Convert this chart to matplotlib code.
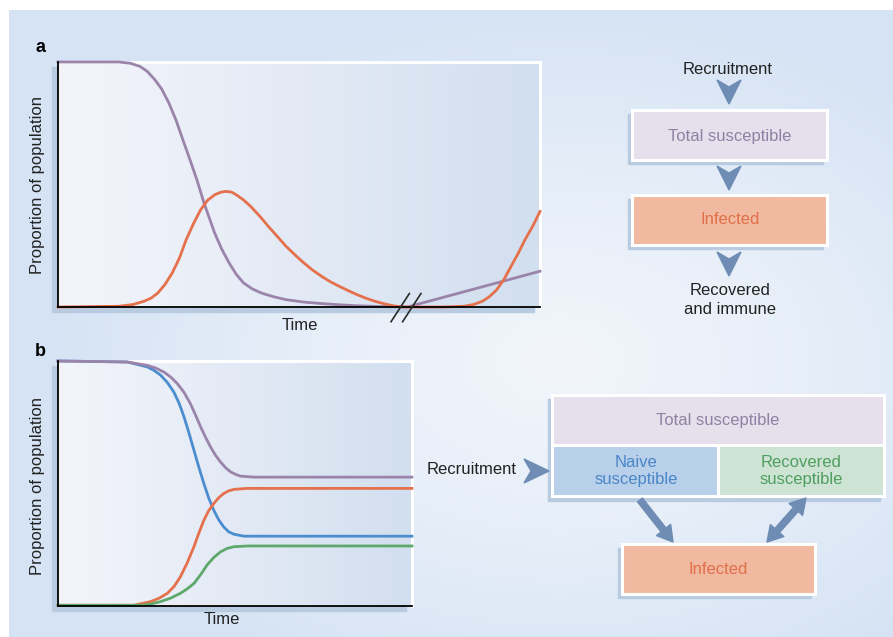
import numpy as np
import matplotlib
matplotlib.use("Agg")
import matplotlib.pyplot as plt
from matplotlib.patches import Rectangle, Polygon, FancyArrowPatch
from matplotlib.colors import to_rgb

plt.rcParams['font.family'] = ['Liberation Sans', 'DejaVu Sans']

# ---------------- data ----------------
# Panel a: time in % of axis, proportion of population (0..1)
a_time_s = [0, 12.6, 15, 17, 18.5, 20, 21.5, 23, 24.5, 25.9, 27.4, 28.8, 30.3, 32.5, 34, 35.5,
            37, 38.5, 40.3, 42.2, 44.7, 47.3, 51, 54.7, 58.4, 62, 67, 72.5, 100]
a_susceptible = [1.0, 1.0, 0.995, 0.982, 0.962, 0.93, 0.89, 0.833, 0.762, 0.683, 0.6, 0.52, 0.424,
                 0.302, 0.235, 0.18, 0.133, 0.098, 0.074, 0.057, 0.042, 0.03, 0.02, 0.014, 0.009,
                 0.005, 0.002, 0.0, 0.146]
a_time_i = [0, 12.6, 15.5, 17.8, 19.3, 20.7, 22.2, 23.7, 25.2, 26.6, 28.1, 29.6, 31, 32.5, 33.7,
            34.8, 36, 37, 38.5, 40, 41.8, 43.6, 45.5, 47.3, 49.2, 51, 52.8, 54.7, 56.5, 58.4, 60.3,
            62.1, 64, 65.8, 67.7, 69.5, 71.7, 80, 84.3, 86.2, 88, 89.5, 91, 92.5, 94, 95.5, 96.9,
            98.5, 100]
a_infected = [0.0, 0.003, 0.01, 0.023, 0.036, 0.057, 0.092, 0.139, 0.2, 0.275, 0.34, 0.397, 0.435,
              0.458, 0.468, 0.472, 0.469, 0.458, 0.437, 0.41, 0.372, 0.33, 0.288, 0.248, 0.212,
              0.18, 0.151, 0.125, 0.103, 0.084, 0.066, 0.05, 0.035, 0.023, 0.013, 0.005, 0.0,
              0.0, 0.003, 0.01, 0.023, 0.042, 0.07, 0.112, 0.166, 0.22, 0.275, 0.33, 0.39]
a_break_t = 72.5

# Panel b
b_time = [0, 19.6, 25.2, 27.5, 29.9, 31.8, 33.7, 35.6, 37.4, 38.9, 40.3, 41.7, 43.1, 44.5, 45.9,
          47.3, 48.7, 50.2, 51.6, 55.3, 100]
b_total = [1.0, 0.996, 0.982, 0.972, 0.955, 0.935, 0.908, 0.872, 0.826, 0.778, 0.731, 0.688,
           0.649, 0.615, 0.588, 0.565, 0.548, 0.537, 0.53, 0.526, 0.526]
b_time_n = [0, 19.6, 25.2, 27.1, 29, 30.9, 32.7, 34.2, 35.6, 37, 38.4, 39.8, 41.2, 42.6, 44,
            45.4, 46.8, 48.2, 49.7, 52.5, 100]
b_naive = [1.0, 0.996, 0.976, 0.962, 0.942, 0.912, 0.874, 0.828, 0.772, 0.706, 0.636, 0.566,
           0.5, 0.44, 0.391, 0.352, 0.323, 0.303, 0.293, 0.285, 0.285]
b_time_i = [0, 21.4, 26.2, 28.6, 30.9, 32.8, 34.6, 36.5, 38.4, 39.8, 41.2, 42.6, 44, 45.4, 46.8,
            48.2, 49.7, 53.4, 100]
b_infected = [0.003, 0.003, 0.018, 0.032, 0.052, 0.08, 0.12, 0.176, 0.242, 0.298, 0.35, 0.39,
              0.418, 0.442, 0.459, 0.47, 0.476, 0.48, 0.48]
b_time_r = [0, 23.3, 26.2, 29, 31.8, 34.6, 36.5, 38.4, 40.3, 42.1, 44, 45.9, 47.8, 49.7, 53.4, 100]
b_recovered = [0.003, 0.003, 0.008, 0.018, 0.032, 0.052, 0.07, 0.092, 0.128, 0.167, 0.198, 0.221,
               0.235, 0.242, 0.245, 0.245]

PURPLE = '#9a84aa'
ORANGE = '#e4704c'
BLUE = '#4b8dcf'
GREEN = '#5ea86c'
ARROW = '#6f8db4'
SHADOW = '#b9cbe0'

W, H = 893, 637
fig = plt.figure(figsize=(W / 100, H / 100), dpi=100)
fig.patch.set_facecolor('white')

# ---------------- background ----------------
bg = fig.add_axes([0, 0, 1, 1])
bg.axis('off')
yy, xx = np.mgrid[0:H - 10, 0:W - 9]
xx = xx + 9
yy = yy + 10
d = np.sqrt(((xx - 560) / 520.0) ** 2 + ((yy - 360) / 360.0) ** 2)
t = np.clip(d, 0, 1)[..., None] ** 1.3
light = np.array(to_rgb('#f1f5fb'))
edge = np.array(to_rgb('#d5e3f4'))
img = light * (1 - t) + edge * t
bg.imshow(img, extent=(9, W, H, 10), origin='upper', aspect='auto', zorder=0)
bg.set_xlim(0, W)
bg.set_ylim(H, 0)


def px_axes(l, tp, r, b):
    return fig.add_axes([l / W, 1 - b / H, (r - l) / W, (b - tp) / H])


def style_axes(ax):
    grad = np.linspace(0, 1, 256)[:, None]
    c0 = np.array(to_rgb('#f4f5fb'))
    c1 = np.array(to_rgb('#d2dfef'))
    g = c0 * (1 - grad) + c1 * grad
    ax.imshow(g.reshape(1, 256, 3), extent=(0, 100, 0, 1), aspect='auto', zorder=0)
    ax.set_xlim(0, 100)
    ax.set_ylim(0, 1)
    ax.set_xticks([])
    ax.set_yticks([])
    for s in ['left', 'bottom']:
        ax.spines[s].set_color('black')
        ax.spines[s].set_linewidth(1.3)
        ax.spines[s].set_zorder(5)
    for s in ['top', 'right']:
        ax.spines[s].set_color('white')
        ax.spines[s].set_linewidth(2.2)


# shadows of plot areas
bg.add_patch(Rectangle((52, 67), 482, 245, color=SHADOW, zorder=1))
bg.add_patch(Rectangle((52, 366), 354, 245, color=SHADOW, zorder=1))

# ---------------- panel a ----------------
axa = px_axes(58, 62, 540, 307)
style_axes(axa)
axa.plot(a_time_s, a_susceptible, color=PURPLE, lw=2, clip_on=False, zorder=3)
axa.plot(a_time_i, a_infected, color=ORANGE, lw=2, clip_on=False, zorder=3)
for off in (-1.4, 1.0):
    axa.plot([a_break_t + off - 2.0, a_break_t + off + 1.8], [-0.06, 0.055], color='#2a2a2a',
             lw=1.2, clip_on=False, zorder=6)

# ---------------- panel b ----------------
axb = px_axes(58, 361, 412, 606)
style_axes(axb)
axb.plot(b_time_n, b_naive, color=BLUE, lw=2, clip_on=False, zorder=3)
axb.plot(b_time_i, b_infected, color=ORANGE, lw=2, clip_on=False, zorder=3)
axb.plot(b_time_r, b_recovered, color=GREEN, lw=2, clip_on=False, zorder=3)
axb.plot(b_time, b_total, color=PURPLE, lw=2, clip_on=False, zorder=3)

# ---------------- labels ----------------
FS = 12
bg.text(40, 47, 'a', fontsize=13, fontweight='bold', ha='center', va='center', zorder=5)
bg.text(40, 352, 'b', fontsize=13, fontweight='bold', ha='center', va='center', zorder=5)
bg.text(38, 185, 'Proportion of population', rotation=90, fontsize=FS, ha='center',
        va='center', color='#222222', zorder=5)
bg.text(38, 486, 'Proportion of population', rotation=90, fontsize=FS, ha='center',
        va='center', color='#222222', zorder=5)
bg.text(300, 325, 'Time', fontsize=FS, ha='center', va='center', color='#222222', zorder=5)
bg.text(222, 620, 'Time', fontsize=FS, ha='center', va='center', color='#222222', zorder=5)


def box(x0, y0, x1, y1, fc, shadow=True):
    if shadow:
        bg.add_patch(Rectangle((x0 - 4, y0 + 4), x1 - x0, y1 - y0, color=SHADOW, zorder=2))
    bg.add_patch(Rectangle((x0, y0), x1 - x0, y1 - y0, facecolor=fc, edgecolor='white',
                           lw=2.2, zorder=3))


def down_chevron(x, y0, length=24, half=12, notch=7):
    bg.add_patch(Polygon([(x - half, y0), (x, y0 + notch), (x + half, y0), (x, y0 + length)],
                         closed=True, color=ARROW, zorder=4))


def right_chevron(x0, y, length=25, half=12, notch=7):
    bg.add_patch(Polygon([(x0, y - half), (x0 + notch, y), (x0, y + half), (x0 + length, y)],
                         closed=True, color=ARROW, zorder=4))


# diagram a
bg.text(728, 69, 'Recruitment', fontsize=FS, ha='center', va='center', color='#222222', zorder=5)
down_chevron(729, 80)
box(632, 110, 827, 160, '#e5e0eb')
bg.text(730, 136, 'Total susceptible', fontsize=FS, ha='center', va='center', color='#8f82a4',
        zorder=5)
down_chevron(729, 166)
box(632, 195, 827, 245, '#f2b9a1')
bg.text(730, 220, 'Infected', fontsize=FS, ha='center', va='center', color='#e0704a', zorder=5)
down_chevron(729, 252)
bg.text(730, 300, 'Recovered\nand immune', fontsize=FS, ha='center', va='center',
        color='#222222', linespacing=1.3, zorder=5)

# diagram b
bg.add_patch(Rectangle((548, 399), 332, 102, color=SHADOW, zorder=2))
box(552, 395, 884, 445, '#e5e0eb', shadow=False)
box(552, 445, 718, 496, '#b9d0ea', shadow=False)
box(718, 445, 884, 496, '#cde3d4', shadow=False)
bg.text(718, 421, 'Total susceptible', fontsize=FS, ha='center', va='center', color='#8f82a4',
        zorder=5)
bg.text(636, 471, 'Naive\nsusceptible', fontsize=FS, ha='center', va='center', color='#4a86c8',
        linespacing=1.1, zorder=5)
bg.text(801, 471, 'Recovered\nsusceptible', fontsize=FS, ha='center', va='center',
        color='#4f9e5f', linespacing=1.1, zorder=5)
bg.text(472, 470, 'Recruitment', fontsize=FS, ha='center', va='center', color='#222222', zorder=5)
right_chevron(524, 471)
box(622, 544, 815, 594, '#f2b9a1')
bg.text(718, 569, 'Infected', fontsize=FS, ha='center', va='center', color='#e0704a', zorder=5)

style = 'simple,head_length=11,head_width=13,tail_width=4.5'
bg.add_patch(FancyArrowPatch((640, 500), (673, 542), arrowstyle=style, mutation_scale=1,
                             color=ARROW, zorder=4, shrinkA=0, shrinkB=0))
mid = (786.5, 520)
bg.add_patch(FancyArrowPatch(mid, (806, 498), arrowstyle=style, mutation_scale=1,
                             color=ARROW, zorder=4, shrinkA=0, shrinkB=0))
bg.add_patch(FancyArrowPatch(mid, (767, 542), arrowstyle=style, mutation_scale=1,
                             color=ARROW, zorder=4, shrinkA=0, shrinkB=0))

fig.savefig('out.png', dpi=100)
